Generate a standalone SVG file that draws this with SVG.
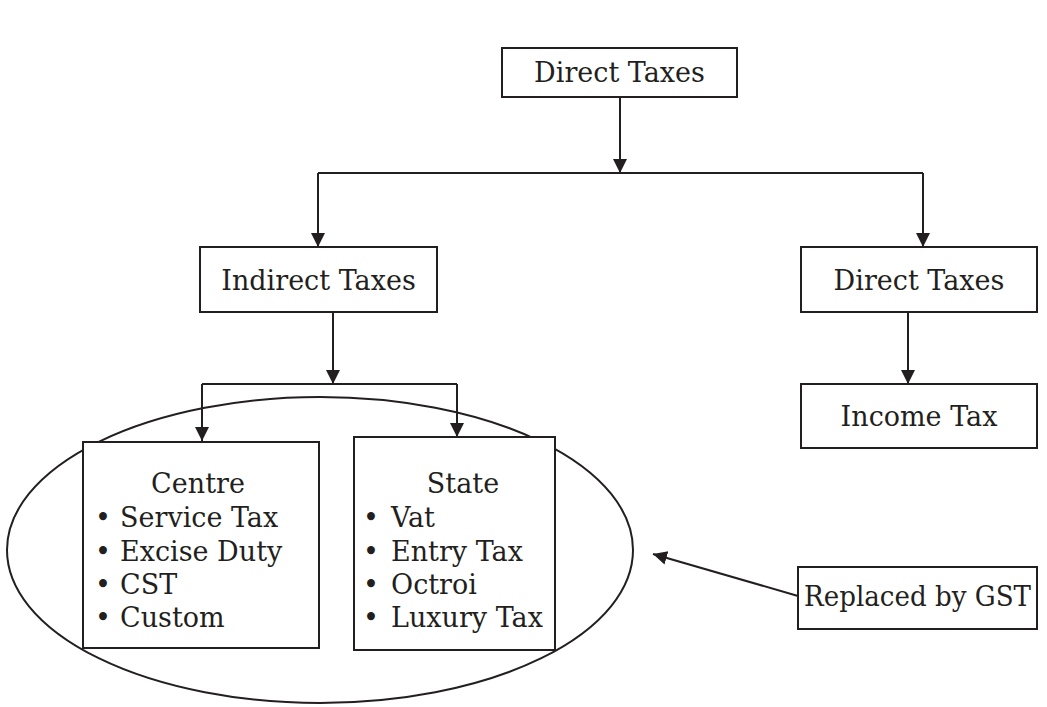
<svg xmlns="http://www.w3.org/2000/svg" width="1047" height="707" viewBox="0 0 1047 707">
<defs>
<style>
.box{fill:#fff;stroke:#231f20;stroke-width:2}
.ln{fill:none;stroke:#231f20;stroke-width:2}
text{font-family:"DejaVu Serif","Liberation Serif",serif;font-size:27px;fill:#231f20}
.c{text-anchor:middle}
</style>
<marker id="ah" markerUnits="userSpaceOnUse" markerWidth="14" markerHeight="16" viewBox="0 0 14 16" refX="14" refY="8" orient="auto">
<path d="M0,1 L14,8 L0,15 Z" fill="#231f20"/>
</marker>
</defs>
<rect width="1047" height="707" fill="#fff"/>
<g id="connectors">
<path class="ln" d="M620,97 V173" marker-end="url(#ah)"/>
<path class="ln" d="M318,173 H923"/>
<path class="ln" d="M318,173 V247" marker-end="url(#ah)"/>
<path class="ln" d="M923,173 V247" marker-end="url(#ah)"/>
<path class="ln" d="M333,312 V384" marker-end="url(#ah)"/>
<path class="ln" d="M202,384 H457"/>
<path class="ln" d="M202,384 V441" marker-end="url(#ah)"/>
<path class="ln" d="M457,384 V437" marker-end="url(#ah)"/>
<path class="ln" d="M908,312 V384" marker-end="url(#ah)"/>
<path class="ln" d="M798,596 L653,554" marker-end="url(#ah)"/>
</g>
<g id="gst-ellipse">
<ellipse class="ln" cx="320" cy="550" rx="313" ry="153"/>
</g>
<g id="top-direct">
<rect class="box" x="502" y="48" width="235" height="49"/>
<text class="c" x="619.5" y="82">Direct Taxes</text>
</g>
<g id="indirect">
<rect class="box" x="200" y="247" width="237" height="65"/>
<text class="c" x="318.5" y="290">Indirect Taxes</text>
</g>
<g id="direct">
<rect class="box" x="801" y="247" width="236" height="65"/>
<text class="c" x="919" y="290">Direct Taxes</text>
</g>
<g id="income">
<rect class="box" x="801" y="384" width="236" height="64"/>
<text class="c" x="919" y="426">Income Tax</text>
</g>
<g id="centre">
<rect class="box" x="83" y="442" width="236" height="206"/>
<text class="c" x="198" y="493">Centre</text>
<text><tspan x="95" y="527">•</tspan><tspan x="120" y="527">Service Tax</tspan></text>
<text><tspan x="95" y="561">•</tspan><tspan x="120" y="561">Excise Duty</tspan></text>
<text><tspan x="95" y="594">•</tspan><tspan x="120" y="594">CST</tspan></text>
<text><tspan x="95" y="627">•</tspan><tspan x="120" y="627">Custom</tspan></text>
</g>
<g id="state">
<rect class="box" x="354" y="437" width="201" height="213"/>
<text class="c" x="463" y="493">State</text>
<text><tspan x="363" y="527">•</tspan><tspan x="391" y="527">Vat</tspan></text>
<text><tspan x="363" y="561">•</tspan><tspan x="391" y="561">Entry Tax</tspan></text>
<text><tspan x="363" y="594">•</tspan><tspan x="391" y="594">Octroi</tspan></text>
<text><tspan x="363" y="627">•</tspan><tspan x="391" y="627">Luxury Tax</tspan></text>
</g>
<g id="replaced">
<rect class="box" x="798" y="567" width="239" height="62"/>
<text class="c" x="917.5" y="606" textLength="227" lengthAdjust="spacingAndGlyphs">Replaced by GST</text>
</g>
</svg>
